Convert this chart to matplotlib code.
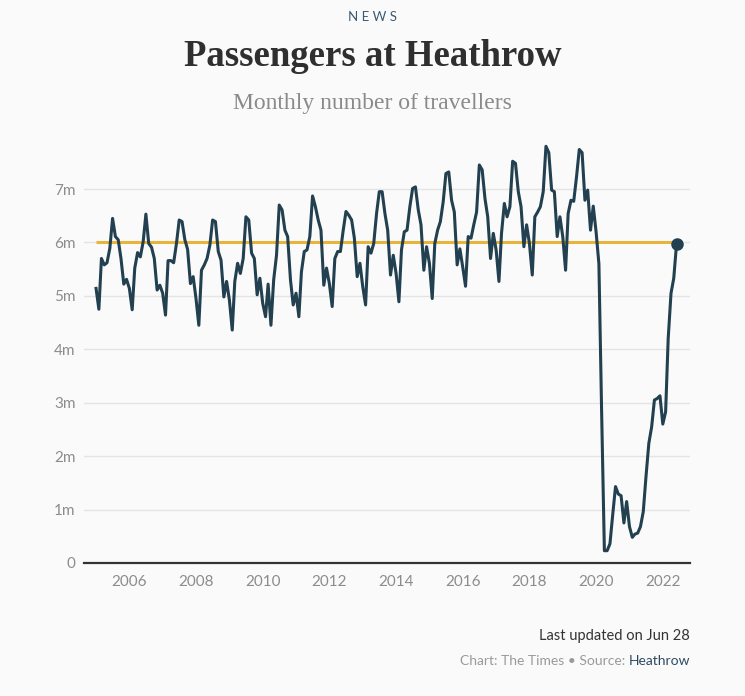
import numpy as np
import pandas as pd
import matplotlib
matplotlib.use("Agg")
import matplotlib.pyplot as plt

# monthly passengers at Heathrow (millions), Jan..Dec
y2005 = [5.14, 4.75, 5.70, 5.58, 5.62, 5.89, 6.45, 6.11, 6.05, 5.70, 5.22, 5.31]
y2006 = [5.14, 4.74, 5.52, 5.81, 5.73, 6.01, 6.53, 5.98, 5.91, 5.70, 5.11, 5.20]
y2007 = [5.05, 4.64, 5.66, 5.66, 5.62, 5.98, 6.42, 6.39, 6.05, 5.87, 5.23, 5.36]
y2008 = [4.95, 4.45, 5.48, 5.58, 5.70, 5.95, 6.42, 6.39, 5.83, 5.67, 4.98, 5.27]
y2009 = [4.92, 4.36, 5.27, 5.61, 5.42, 5.70, 6.48, 6.42, 5.80, 5.70, 5.02, 5.33]
y2010 = [4.86, 4.61, 5.22, 4.45, 5.30, 5.76, 6.70, 6.61, 6.23, 6.11, 5.30, 4.83]
y2011 = [5.05, 4.61, 5.45, 5.83, 5.86, 6.11, 6.87, 6.67, 6.42, 6.23, 5.20, 5.52]
y2012 = [5.23, 4.80, 5.70, 5.83, 5.83, 6.23, 6.58, 6.51, 6.42, 6.08, 5.36, 5.61]
y2013 = [5.17, 4.83, 5.92, 5.80, 5.98, 6.54, 6.95, 6.95, 6.54, 6.23, 5.39, 5.76]
y2014 = [5.42, 4.89, 5.86, 6.20, 6.23, 6.67, 7.01, 7.04, 6.61, 6.33, 5.48, 5.92]
y2015 = [5.61, 4.95, 5.98, 6.23, 6.39, 6.76, 7.29, 7.32, 6.79, 6.57, 5.58, 5.88]
y2016 = [5.54, 5.18, 6.11, 6.08, 6.33, 6.57, 7.45, 7.36, 6.82, 6.48, 5.70, 6.17]
y2017 = [5.86, 5.27, 6.17, 6.73, 6.48, 6.67, 7.52, 7.48, 6.95, 6.67, 5.92, 6.33]
y2018 = [5.98, 5.39, 6.48, 6.57, 6.67, 6.95, 7.80, 7.68, 6.98, 6.95, 6.11, 6.48]
y2019 = [6.11, 5.48, 6.54, 6.79, 6.77, 7.23, 7.74, 7.68, 6.79, 6.98, 6.23, 6.68]
y2020 = [6.20, 5.60, 2.90, 0.23, 0.23, 0.36, 0.90, 1.43, 1.29, 1.26, 0.75, 1.15]
y2021 = [0.68, 0.48, 0.54, 0.56, 0.68, 0.96, 1.62, 2.24, 2.55, 3.05, 3.08, 3.13]
y2022 = [2.60, 2.83, 4.20, 5.05, 5.33, 5.98]

reference_level = 6.0
y_ticks = [0, 1, 2, 3, 4, 5, 6, 7]
y_labels = ["0", "1m", "2m", "3m", "4m", "5m", "6m", "7m"]
x_years = [2006, 2008, 2010, 2012, 2014, 2016, 2018, 2020, 2022]

values = np.array(y2005 + y2006 + y2007 + y2008 + y2009 + y2010 + y2011 + y2012
                  + y2013 + y2014 + y2015 + y2016 + y2017 + y2018 + y2019
                  + y2020 + y2021 + y2022)
months = pd.date_range("2005-01-01", periods=len(values), freq="MS")

W, H = 745, 696
bg = "#fafafa"
navy = "#22404f"
gold = "#e8b43c"
sans = ["Lato", "DejaVu Sans"]
serif = ["Liberation Serif", "DejaVu Serif"]

fig = plt.figure(figsize=(W / 100, H / 100), dpi=100, facecolor=bg)
ax = fig.add_axes([84 / W, 133 / H, 606 / W, 427.4 / H], facecolor=bg)

ax.plot([months[0], months[-1]], [reference_level, reference_level],
        color=gold, lw=2.2, zorder=2, solid_capstyle="butt")
ax.plot(months, values, color=navy, lw=2.2, zorder=3, solid_joinstyle="round")
ax.plot(months[-1], values[-1], "o", color=navy, ms=8, zorder=4)

ax.set_ylim(0, 8)
ax.set_xlim(pd.Timestamp("2004-08-22"), pd.Timestamp("2022-10-26"))
ax.set_yticks(y_ticks)
ax.set_yticklabels(y_labels)
ax.set_xticks([pd.Timestamp(f"{y}-01-01") for y in x_years])
ax.set_xticklabels([str(y) for y in x_years])

for s in ["top", "right", "left"]:
    ax.spines[s].set_visible(False)
ax.spines["bottom"].set_color("#333333")
ax.spines["bottom"].set_linewidth(1.6)
ax.spines["bottom"].set_zorder(5)

ax.grid(axis="y", color="#e4e4e4", lw=1.0, zorder=0)
ax.tick_params(axis="both", length=0, colors="#8c8c8c", labelsize=11)
ax.tick_params(axis="y", pad=6)
ax.tick_params(axis="x", pad=9)
for lab in ax.get_xticklabels() + ax.get_yticklabels():
    lab.set_family(sans)

# header
fig.text(0.5, 1 - 17 / H, "N E W S", ha="center", va="center", color="#3d5a73",
         fontsize=9.5, family=sans)
fig.text(0.5, 1 - 56 / H, "Passengers at Heathrow", ha="center", va="center",
         color="#2f2f2f", fontsize=26.5, fontweight="bold", family=serif)
fig.text(0.5, 1 - 103 / H, "Monthly number of travellers", ha="center", va="center",
         color="#8a8a8a", fontsize=17, family=serif)

# footer
fig.text(690 / W, 1 - 636 / H, "Last updated on Jun 28", ha="right", va="center",
         color="#333333", fontsize=10.5, family=sans)
fig.canvas.draw()
renderer = fig.canvas.get_renderer()
src = fig.text(690 / W, 1 - 661 / H, "Heathrow", ha="right", va="center",
               color="#2e4a62", fontsize=10, family=sans)
bb = src.get_window_extent(renderer)
fig.text((bb.x0 - 3) / W, 1 - 661 / H, "Chart: The Times \u2022 Source:", ha="right",
         va="center", color="#9a9a9a", fontsize=10, family=sans)

fig.savefig("out.png", dpi=100, facecolor=bg)
